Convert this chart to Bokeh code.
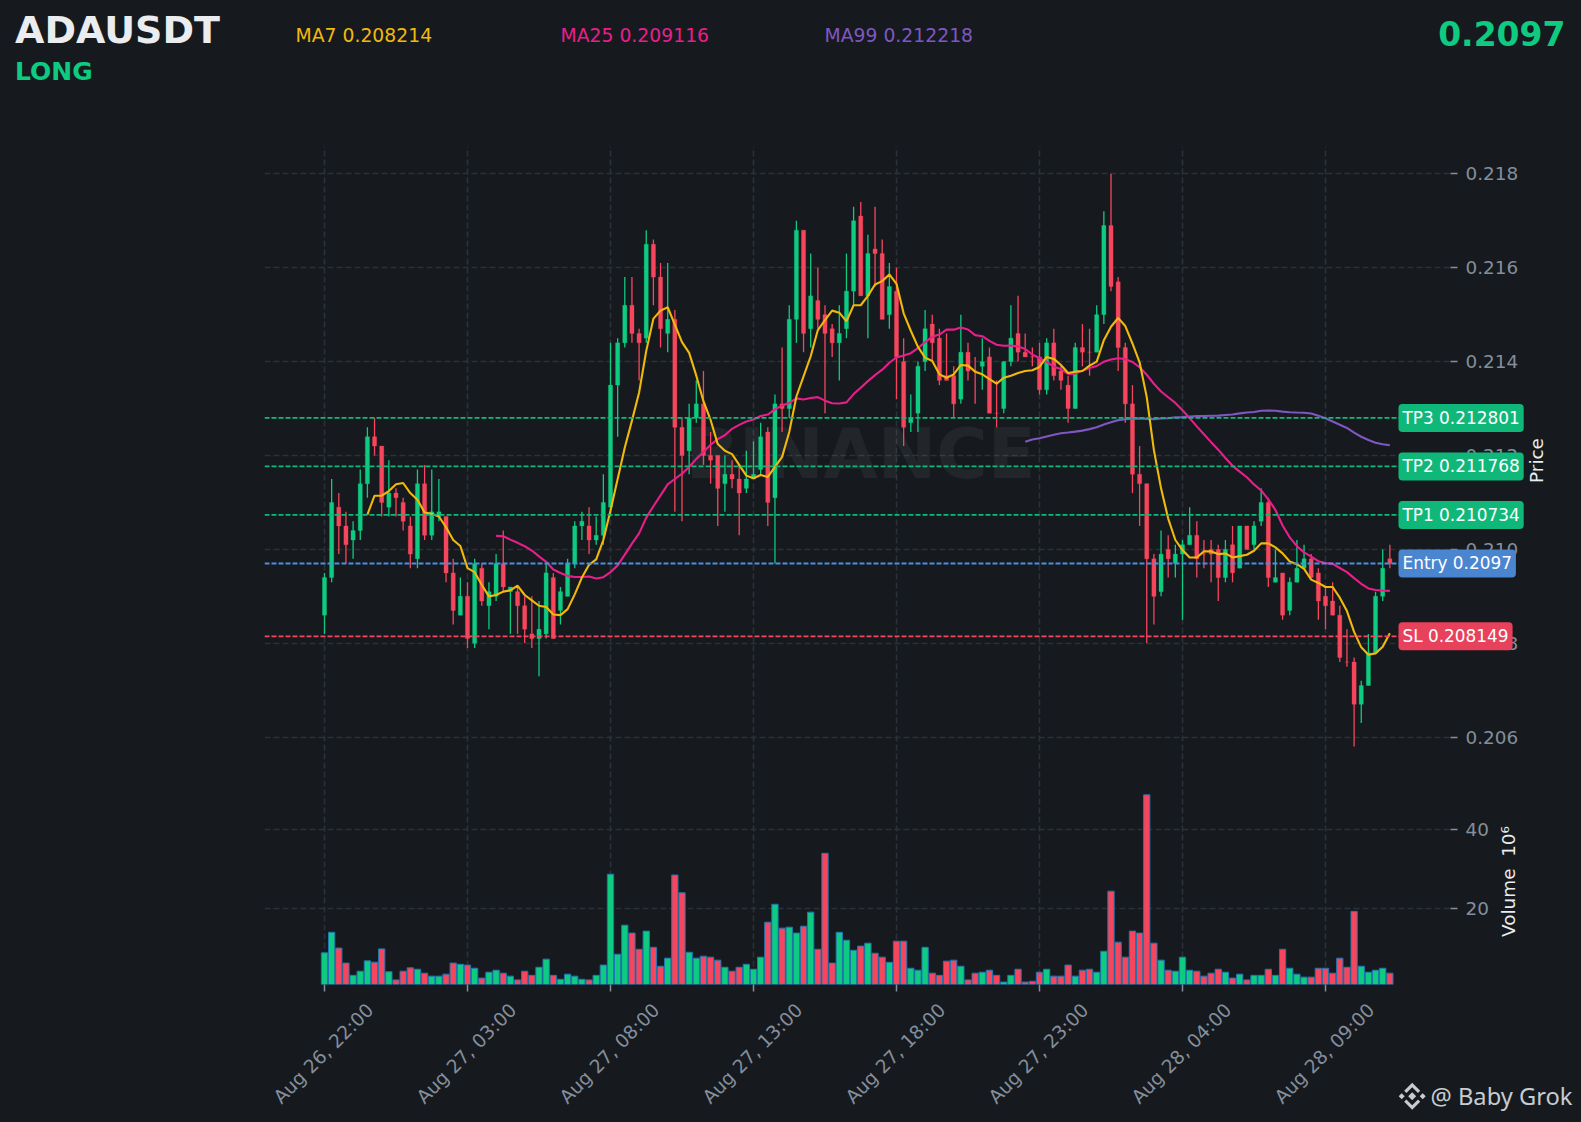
import math
import pandas as pd
from bokeh.embed import file_html
from bokeh.resources import INLINE
from bokeh.plotting import figure
from bokeh.models import (ColumnDataSource, FixedTicker, Range1d, Label,
                          Span, PolyAnnotation, LinearScale)
from bokeh.core.properties import value

TICK = 1e-4
opens = [2086,2094,2109,2105,2102,2104,2114,2124,2122,2109,2112,2110,2105,2098,2114,2103,2107,2107,2095,2086,
 2090,2080,2096,2088,2090,2097,2091,2091,2088,2082,2081,2082,2094,2087,2090,2097,2105,2105,2102,2103,
 2109,2135,2144,2152,2146,2145,2165,2158,2146,2149,2126,2121,2128,2131,2120,2120,2114,2116,2115,2113,
 2115,2117,2125,2111,2131,2130,2149,2168,2147,2153,2150,2147,2144,2147,2155,2171,2154,2164,2163,2150,
 2155,2140,2127,2129,2140,2148,2145,2137,2137,2132,2142,2138,2139,2141,2129,2130,2140,2146,2142,2141,
 2141,2134,2144,2138,2135,2130,2143,2142,2142,2150,2169,2157,2143,2131,2116,2114,2098,2091,2100,2097,
 2099,2101,2103,2099,2100,2100,2094,2101,2096,2105,2101,2106,2110,2093,2095,2087,2093,2096,2098,2095,
 2090,2089,2086,2076,2076,2067,2071,2078,2090,2098]
highs = [2095,2115,2112,2108,2106,2117,2126,2128,2122,2119,2113,2111,2107,2117,2118,2117,2115,2107,2098,2094,
 2093,2098,2097,2093,2099,2104,2092,2092,2090,2090,2089,2097,2095,2092,2098,2106,2108,2109,2107,2116,
 2144,2145,2158,2158,2147,2168,2166,2161,2161,2151,2128,2131,2136,2138,2125,2120,2120,2119,2118,2121,
 2123,2127,2126,2133,2143,2152,2170,2168,2163,2160,2152,2148,2152,2163,2173,2174,2167,2173,2166,2161,
 2160,2145,2133,2140,2151,2150,2147,2146,2139,2150,2144,2141,2145,2143,2136,2140,2152,2154,2146,2143,
 2144,2145,2147,2139,2137,2144,2148,2147,2152,2172,2180,2158,2144,2135,2122,2114,2099,2104,2103,2101,
 2102,2109,2106,2102,2102,2101,2102,2105,2105,2105,2106,2113,2111,2100,2095,2094,2102,2101,2099,2096,
 2092,2093,2088,2083,2077,2072,2082,2091,2100,2101]
lows = [2082,2093,2099,2097,2098,2102,2111,2120,2107,2107,2107,2104,2096,2096,2102,2102,2106,2093,2084,2086,
 2079,2079,2088,2083,2089,2091,2082,2082,2080,2079,2073,2081,2081,2084,2090,2096,2102,2099,2101,2101,
 2107,2124,2143,2144,2136,2144,2152,2143,2142,2108,2106,2116,2127,2118,2114,2105,2108,2113,2103,2112,
 2115,2116,2105,2097,2125,2128,2144,2142,2143,2147,2129,2141,2136,2145,2152,2154,2145,2156,2149,2147,
 2132,2122,2125,2125,2138,2140,2135,2136,2128,2131,2136,2131,2134,2129,2126,2129,2139,2140,2141,2139,
 2133,2133,2136,2134,2127,2130,2139,2137,2142,2148,2155,2138,2127,2112,2105,2080,2084,2090,2094,2094,
 2085,2101,2094,2096,2093,2089,2093,2093,2096,2100,2100,2105,2092,2093,2085,2086,2093,2096,2094,2085,
 2083,2086,2076,2075,2058,2063,2071,2078,2089,2096]
closes = [2094,2110,2105,2101,2104,2114,2124,2122,2110,2112,2111,2106,2099,2114,2103,2108,2108,2095,2087,2090,
 2081,2097,2089,2091,2097,2092,2092,2088,2083,2081,2083,2095,2081,2091,2097,2105,2106,2102,2103,2110,
 2135,2144,2152,2146,2144,2165,2158,2147,2149,2126,2120,2128,2131,2120,2119,2113,2116,2115,2112,2115,
 2116,2124,2110,2131,2130,2149,2168,2146,2154,2149,2146,2144,2146,2155,2170,2154,2163,2163,2149,2156,
 2141,2126,2128,2139,2147,2144,2136,2136,2131,2142,2138,2138,2140,2129,2129,2140,2145,2142,2141,2141,
 2134,2144,2137,2136,2130,2143,2142,2142,2150,2169,2156,2143,2131,2116,2114,2098,2090,2099,2098,2099,
 2101,2103,2098,2099,2099,2094,2100,2095,2105,2100,2105,2110,2094,2094,2086,2093,2096,2098,2094,2089,
 2088,2086,2077,2076,2067,2071,2078,2090,2096,2097]
volumes = [8.7,13.9,9.9,6.1,3.0,4.05,6.67,6.33,9.7,3.9,1.85,4.05,4.9,4.55,3.55,2.8,2.8,3.3,6.1,5.8,
 5.6,4.8,2.3,3.8,4.3,3.55,2.8,1.85,4.05,3.0,5.05,7.1,3.0,2.0,3.3,2.8,2.0,1.85,3.0,5.6,
 28.6,8.35,15.7,13.7,9.6,14.2,10.1,5.3,7.35,28.4,23.9,8.85,7.35,7.85,7.6,6.85,5.05,4.05,5.05,5.8,
 4.55,7.6,16.45,21.0,14.95,15.2,13.7,15.45,19.0,9.6,33.9,6.1,13.9,11.9,9.35,10.4,11.15,8.6,7.6,6.3,
 11.65,11.65,4.8,4.3,10.1,3.55,3.0,6.6,6.85,5.3,1.85,3.55,3.8,4.3,3.0,1.3,3.0,4.55,1.3,1.5,
 3.8,4.55,2.8,2.8,5.6,2.8,4.3,4.55,3.8,9.1,24.3,11.4,7.6,14.2,13.7,48.7,11.15,6.85,4.3,4.05,
 7.6,4.3,4.05,2.8,3.55,4.55,3.8,2.3,3.3,1.85,3.0,3.0,4.55,3.0,9.6,4.8,3.3,2.55,2.55,4.8,
 4.8,3.55,7.35,5.05,19.2,5.3,3.8,4.3,4.8,3.55]

date_ticks = [0, 20, 40, 60, 80, 100, 120, 140]
date_labels = ["Aug 26, 22:00", "Aug 27, 03:00", "Aug 27, 08:00", "Aug 27, 13:00",
               "Aug 27, 18:00", "Aug 27, 23:00", "Aug 28, 04:00", "Aug 28, 09:00"]
price_ticks = [0.206, 0.208, 0.210, 0.212, 0.214, 0.216, 0.218]
volume_ticks = [20, 40]
levels = [("TP3 0.212801", 0.212801, "#10B978", "#0FB878"),
          ("TP2 0.211768", 0.211768, "#10B978", "#0FB878"),
          ("TP1 0.210734", 0.210734, "#10B978", "#0FB878"),
          ("Entry 0.2097", 0.2097, "#4A90E2", "#4A86D0"),
          ("SL 0.208149", 0.208149, "#F6465D", "#E7415C")]

BG = "#161A1E"; UP = "#0ECB81"; DOWN = "#F6465D"; GRID = "#2B3139"; TXT = "#848E9C"
FONT = value("DejaVu Sans")
W, H = 1581, 1122

L, R, T, B = 264, 1450, 146, 984
X0, XS = 324.0, 7.15
Y0, YS = 455.0, 46950.0
VY20, VS = 907.7, 3.95

def dx(px): return (px - X0) / XS
def dy(py): return 0.212 - (py - Y0) / YS
def py_of(price): return Y0 - (price - 0.212) * YS
def vol_to_price(v): return dy(VY20 - (v - 20) * VS)

n = len(closes)
s = pd.Series(closes, dtype=float) * TICK
df = pd.DataFrame(dict(
    x=list(range(n)),
    o=[v * TICK for v in opens], h=[v * TICK for v in highs],
    l=[v * TICK for v in lows], c=[v * TICK for v in closes],
    vol=volumes,
    color=[UP if c > o else DOWN for o, c in zip(opens, closes)],
))
df["top"] = df[["o", "c"]].max(axis=1)
df["bot"] = df[["o", "c"]].min(axis=1)
df["ma7"] = s.rolling(7).mean()
df["ma25"] = s.rolling(25).mean()
df["ma99"] = s.rolling(99).mean()
src = ColumnDataSource(df)

ABS = {"position": "absolute", "left": "0px", "top": "0px"}

p = figure(width=W, height=H, output_backend="svg", toolbar_location=None,
           x_range=Range1d(dx(L), dx(R)), y_range=Range1d(dy(B), dy(T)),
           background_fill_color=BG, border_fill_color=BG, y_axis_location="right",
           min_border_left=L, min_border_right=W - R, min_border_top=T,
           min_border_bottom=H - B, styles=ABS)
p.outline_line_color = None
p.extra_y_ranges = {"vol": Range1d(20 - (B - VY20) / VS, 20 + (VY20 - T) / VS)}
p.extra_y_scales = {"vol": LinearScale()}

ya = p.yaxis[0]
ya.ticker = FixedTicker(ticks=price_ticks + [vol_to_price(v) for v in volume_ticks])
ya.major_label_overrides = {**{t: f"{t:.3f}" for t in price_ticks},
                            **{vol_to_price(v): str(v) for v in volume_ticks}}
ya.axis_line_color = None
ya.major_tick_line_color = TXT
ya.major_tick_line_width = 1.5
ya.major_tick_out = 7
ya.major_tick_in = 0
ya.minor_tick_line_color = None
ya.major_label_text_color = TXT
ya.major_label_text_font = "DejaVu Sans"
ya.major_label_text_font_size = "18.4px"
ya.major_label_standoff = 8

xa = p.xaxis[0]
xa.ticker = FixedTicker(ticks=date_ticks)
xa.major_label_overrides = {t: "" for t in date_ticks}
xa.axis_line_color = None
xa.major_tick_line_color = TXT
xa.major_tick_line_width = 1.5
xa.major_tick_out = 7
xa.major_tick_in = 0
xa.minor_tick_line_color = None

for g in (p.xgrid[0], p.ygrid[0]):
    g.grid_line_color = GRID
    g.grid_line_dash = "6 3"
    g.grid_line_width = 1.6

p.text(x=[dx(860)], y=[dy(453)], text=["BINANCE"], text_font=FONT, text_font_style="bold",
       text_font_size="70px", text_color="#FFFFFF", text_alpha=0.055,
       text_align="center", text_baseline="middle")

p.vbar(x="x", top="vol", bottom=0, width=0.88, source=src, y_range_name="vol",
       fill_color="color", line_color="#1F77B4", line_width=1)
p.segment(x0="x", x1="x", y0="l", y1="h", source=src, line_color="color", line_width=1.3)
p.vbar(x="x", top="top", bottom="bot", width=0.58, source=src, fill_color="color", line_color="color", line_width=0.3)
p.line(x="x", y="ma99", source=src, line_color="#7E57C2", line_width=2.1)
p.line(x="x", y="ma25", source=src, line_color="#E91E8C", line_width=2.1)
p.line(x="x", y="ma7", source=src, line_color="#F0B90B", line_width=2.1)

for text, price, line_col, box_col in levels:
    p.add_layout(Span(location=price, dimension="width", line_color=line_col, line_dash="5 2", line_width=1.8))

q = figure(width=W, height=H, output_backend="svg", toolbar_location=None,
           x_range=Range1d(0, W), y_range=Range1d(H, 0),
           x_axis_location=None, y_axis_location=None,
           background_fill_color=None, border_fill_color=None,
           min_border=0, min_border_left=0, min_border_right=0, min_border_top=0, min_border_bottom=0,
           styles=ABS)
q.outline_line_color = None
q.grid.visible = False

def lab(px, py, text, size, color, bold=False, align="left", angle=0.0, font="DejaVu Sans"):
    q.add_layout(Label(x=px, y=py, text=text, text_font=font, text_font_size=size, text_color=color,
                       text_font_style="bold" if bold else "normal", text_align=align,
                       text_baseline="middle", angle=angle))

for text, price, line_col, box_col in levels:
    q.add_layout(Label(x=1398, y=py_of(price), text=text, text_font="DejaVu Sans", text_font_size="16.9px",
                       text_color="#FFFFFF", text_align="left", text_baseline="middle",
                       background_fill_color=box_col, border_radius=4, padding=(4, 4)))

for t, text in zip(date_ticks, date_labels):
    lab(X0 + t * XS - 1, 1053, text, "18.7px", TXT, align="center", angle=math.pi / 4)

lab(14.5, 29, "ADAUSDT", "38px", "#EAECEF", bold=True)
lab(14.5, 71, "LONG", "25px", UP, bold=True)
lab(295, 35, "MA7 0.208214", "18.8px", "#F0B90B")
lab(560, 35, "MA25 0.209116", "18.8px", "#E91E8C")
lab(824, 35, "MA99 0.212218", "18.8px", "#7E57C2")
lab(1565, 33, "0.2097", "33px", UP, bold=True, align="right")
lab(1536, 460, "Price", "18.4px", "#EAECEF", align="center", angle=math.pi / 2)
lab(1508, 881, "Volume\u00a0\u00a010\u2076", "18.4px", "#EAECEF", align="center", angle=math.pi / 2)
lab(1430, 1095, "@ Baby Grok", "23.7px", "#C8CBD0", font="Noto Sans")

CX, CY = 1411.7, 1095.7
mark = [
    [(0, -4), (4, 0), (0, 4), (-4, 0)],
    [(-10.5, -3), (-7.5, 0), (-10.5, 3), (-13.5, 0)],
    [(10.5, -3), (13.5, 0), (10.5, 3), (7.5, 0)],
    [(0, -13.5), (8, -5.5), (5.8, -3.3), (0, -9), (-5.8, -3.3), (-8, -5.5)],
    [(0, 13.5), (8, 5.5), (5.8, 3.3), (0, 9), (-5.8, 3.3), (-8, 5.5)],
]
for part in mark:
    q.add_layout(PolyAnnotation(xs=[CX + a for a, b in part], ys=[CY + b for a, b in part],
                                fill_color="#C8CBD0", fill_alpha=1, line_color=None))

html = file_html([p, q], INLINE)
html = html.replace("<head>", "<head><style>html,body{background:#161A1E;overflow:hidden;margin:0}</style>", 1)
open("out.html", "w").write(html)
